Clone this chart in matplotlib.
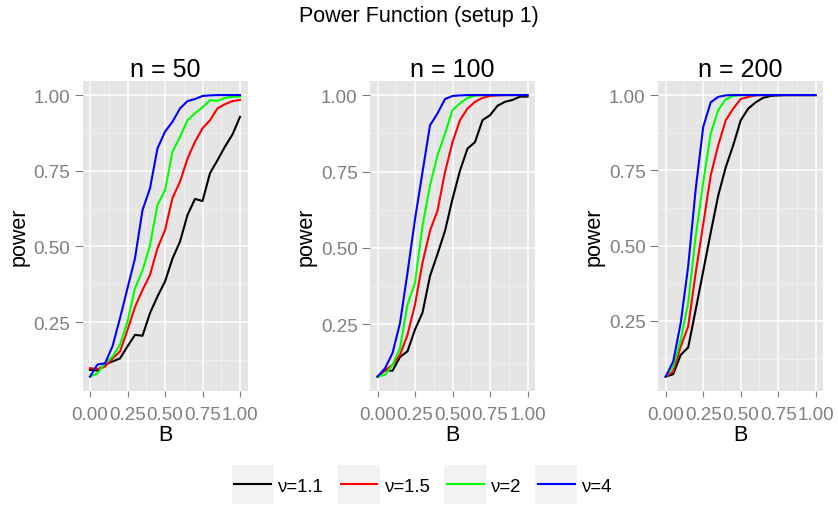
import matplotlib
matplotlib.use("Agg")
import matplotlib.pyplot as plt
from matplotlib.lines import Line2D
from matplotlib.patches import Rectangle
from matplotlib.legend_handler import HandlerBase
import numpy as np

plt.rcParams['font.family'] = ['Liberation Sans', 'DejaVu Sans']

B = [0.00, 0.05, 0.10, 0.15, 0.20, 0.25, 0.30, 0.35, 0.40, 0.45, 0.50,
     0.55, 0.60, 0.65, 0.70, 0.75, 0.80, 0.85, 0.90, 0.95, 1.00]

panel_titles = ["n = 50", "n = 100", "n = 200"]
series_labels = ["\u03bd=1.1", "\u03bd=1.5", "\u03bd=2", "\u03bd=4"]
series_colors = ["#000000", "#FF0000", "#00FF00", "#0000FF"]

# n = 50
p50_nu11 = [0.092, 0.090, 0.110, 0.120, 0.130, 0.170, 0.208, 0.205, 0.280, 0.335, 0.384,
            0.460, 0.516, 0.604, 0.657, 0.650, 0.742, 0.785, 0.830, 0.870, 0.928]
p50_nu15 = [0.098, 0.095, 0.103, 0.130, 0.153, 0.224, 0.300, 0.356, 0.406, 0.494, 0.554,
            0.660, 0.714, 0.790, 0.846, 0.890, 0.917, 0.956, 0.970, 0.980, 0.984]
p50_nu2 = [0.070, 0.081, 0.114, 0.136, 0.175, 0.252, 0.362, 0.420, 0.505, 0.637, 0.686,
           0.813, 0.862, 0.917, 0.940, 0.960, 0.983, 0.981, 0.991, 0.994, 0.995]
p50_nu4 = [0.070, 0.110, 0.114, 0.170, 0.263, 0.362, 0.461, 0.620, 0.692, 0.824, 0.879,
           0.912, 0.956, 0.980, 0.987, 0.997, 0.999, 1.000, 1.000, 1.000, 1.000]

# n = 100
p100_nu11 = [0.079, 0.100, 0.098, 0.143, 0.162, 0.233, 0.288, 0.408, 0.480, 0.556, 0.660,
             0.753, 0.825, 0.846, 0.918, 0.934, 0.965, 0.978, 0.984, 0.995, 0.995]
p100_nu15 = [0.079, 0.100, 0.117, 0.150, 0.216, 0.315, 0.452, 0.556, 0.622, 0.748, 0.846,
             0.918, 0.956, 0.978, 0.991, 0.997, 0.999, 1.000, 1.000, 1.000, 1.000]
p100_nu2 = [0.079, 0.085, 0.117, 0.172, 0.315, 0.386, 0.572, 0.704, 0.803, 0.874, 0.951,
            0.973, 0.991, 0.998, 1.000, 1.000, 1.000, 1.000, 1.000, 1.000, 1.000]
p100_nu4 = [0.079, 0.106, 0.156, 0.254, 0.419, 0.594, 0.748, 0.901, 0.940, 0.987, 0.997,
            0.999, 1.000, 1.000, 1.000, 1.000, 1.000, 1.000, 1.000, 1.000, 1.000]

# n = 200
p200_nu11 = [0.065, 0.073, 0.137, 0.162, 0.287, 0.415, 0.543, 0.666, 0.760, 0.833, 0.916,
             0.955, 0.976, 0.991, 0.997, 0.999, 1.000, 1.000, 1.000, 1.000, 1.000]
p200_nu15 = [0.065, 0.082, 0.165, 0.232, 0.410, 0.571, 0.733, 0.833, 0.916, 0.955, 0.987,
             0.994, 0.999, 1.000, 1.000, 1.000, 1.000, 1.000, 1.000, 1.000, 1.000]
p200_nu2 = [0.065, 0.098, 0.187, 0.310, 0.532, 0.710, 0.872, 0.950, 0.986, 0.997, 1.000,
            1.000, 1.000, 1.000, 1.000, 1.000, 1.000, 1.000, 1.000, 1.000, 1.000]
p200_nu4 = [0.065, 0.115, 0.243, 0.432, 0.688, 0.894, 0.976, 0.994, 0.999, 1.000, 1.000,
            1.000, 1.000, 1.000, 1.000, 1.000, 1.000, 1.000, 1.000, 1.000, 1.000]

panels = [
    [p50_nu11, p50_nu15, p50_nu2, p50_nu4],
    [p100_nu11, p100_nu15, p100_nu2, p100_nu4],
    [p200_nu11, p200_nu15, p200_nu2, p200_nu4],
]

x_ticks = [0.0, 0.25, 0.5, 0.75, 1.0]
x_ticklabels = ["0.00", "0.25", "0.50", "0.75", "1.00"]
y_ticks = [0.25, 0.5, 0.75, 1.0]
y_ticklabels = ["0.25", "0.50", "0.75", "1.00"]

W, H = 838, 506
fig = plt.figure(figsize=(W / 100, H / 100), dpi=100)
fig.patch.set_facecolor("white")

panel_lefts = [82.5, 370.0, 658.2]
pw, top_px, bot_px = 165.0, 82.0, 391.7

grey_txt = "#7F7F7F"
for i, left in enumerate(panel_lefts):
    ax = fig.add_axes([left / W, (H - bot_px) / H, pw / W, (bot_px - top_px) / H])
    ax.set_facecolor("#E5E5E5")
    for s in ax.spines.values():
        s.set_visible(False)
    allv = np.concatenate([np.asarray(v) for v in panels[i]])
    lo, hi = allv.min(), allv.max()
    r = hi - lo
    ax.set_ylim(lo - 0.05 * r, hi + 0.05 * r)
    ax.set_xlim(-0.05, 1.05)
    ax.set_xticks(x_ticks)
    ax.set_xticklabels(x_ticklabels)
    ax.set_yticks(y_ticks)
    ax.set_yticklabels(y_ticklabels)
    ax.set_xticks([0.125, 0.375, 0.625, 0.875], minor=True)
    ax.set_yticks([0.125, 0.375, 0.625, 0.875], minor=True)
    ax.grid(True, which="major", color="white", lw=1.1)
    ax.grid(True, which="minor", color="#F2F2F2", lw=0.5)
    ax.set_axisbelow(True)
    ax.tick_params(which="major", width=0.8, color=grey_txt,
                   labelcolor=grey_txt, labelsize=13.5)
    ax.tick_params(axis="x", which="major", length=4.0, pad=7.0)
    ax.tick_params(axis="y", which="major", length=5.5, pad=3.5)
    ax.tick_params(which="minor", length=0)
    for ys, c in zip(panels[i], series_colors):
        ax.plot(B, ys, color=c, lw=1.5)
    ax.set_title(panel_titles[i], fontsize=18, pad=3)
    ax.set_xlabel("B", fontsize=15.5, labelpad=1)
    ax.set_ylabel("power", fontsize=15.5, labelpad=3)

fig.text(0.5, 1 - 22.0 / H, "Power Function (setup 1)", ha="center",
         va="baseline", fontsize=15.5)


class KeyHandler(HandlerBase):
    def create_artists(self, legend, orig_handle, xdescent, ydescent,
                       width, height, fontsize, trans):
        bw, bh = 30.2, 28.0
        cy = height / 2 - ydescent
        rect = Rectangle((-xdescent, cy - bh / 2), bw, bh, facecolor="#F2F2F2",
                         edgecolor="none", transform=trans)
        pad = 2.0
        ln = Line2D([-xdescent + pad, -xdescent + bw - pad], [cy, cy],
                    color=orig_handle.get_color(), lw=1.5, transform=trans)
        return [rect, ln]


handles = [Line2D([], [], color=c) for c in series_colors]
leg = fig.legend(handles, series_labels, loc="center",
                 bbox_to_anchor=(422 / W, 1 - 487.5 / H), ncol=4, frameon=False,
                 fontsize=13.4, handlelength=30.2 / 13.4, handletextpad=0.25,
                 columnspacing=0.75, handler_map={Line2D: KeyHandler()})

fig.savefig("out.png", dpi=100)
